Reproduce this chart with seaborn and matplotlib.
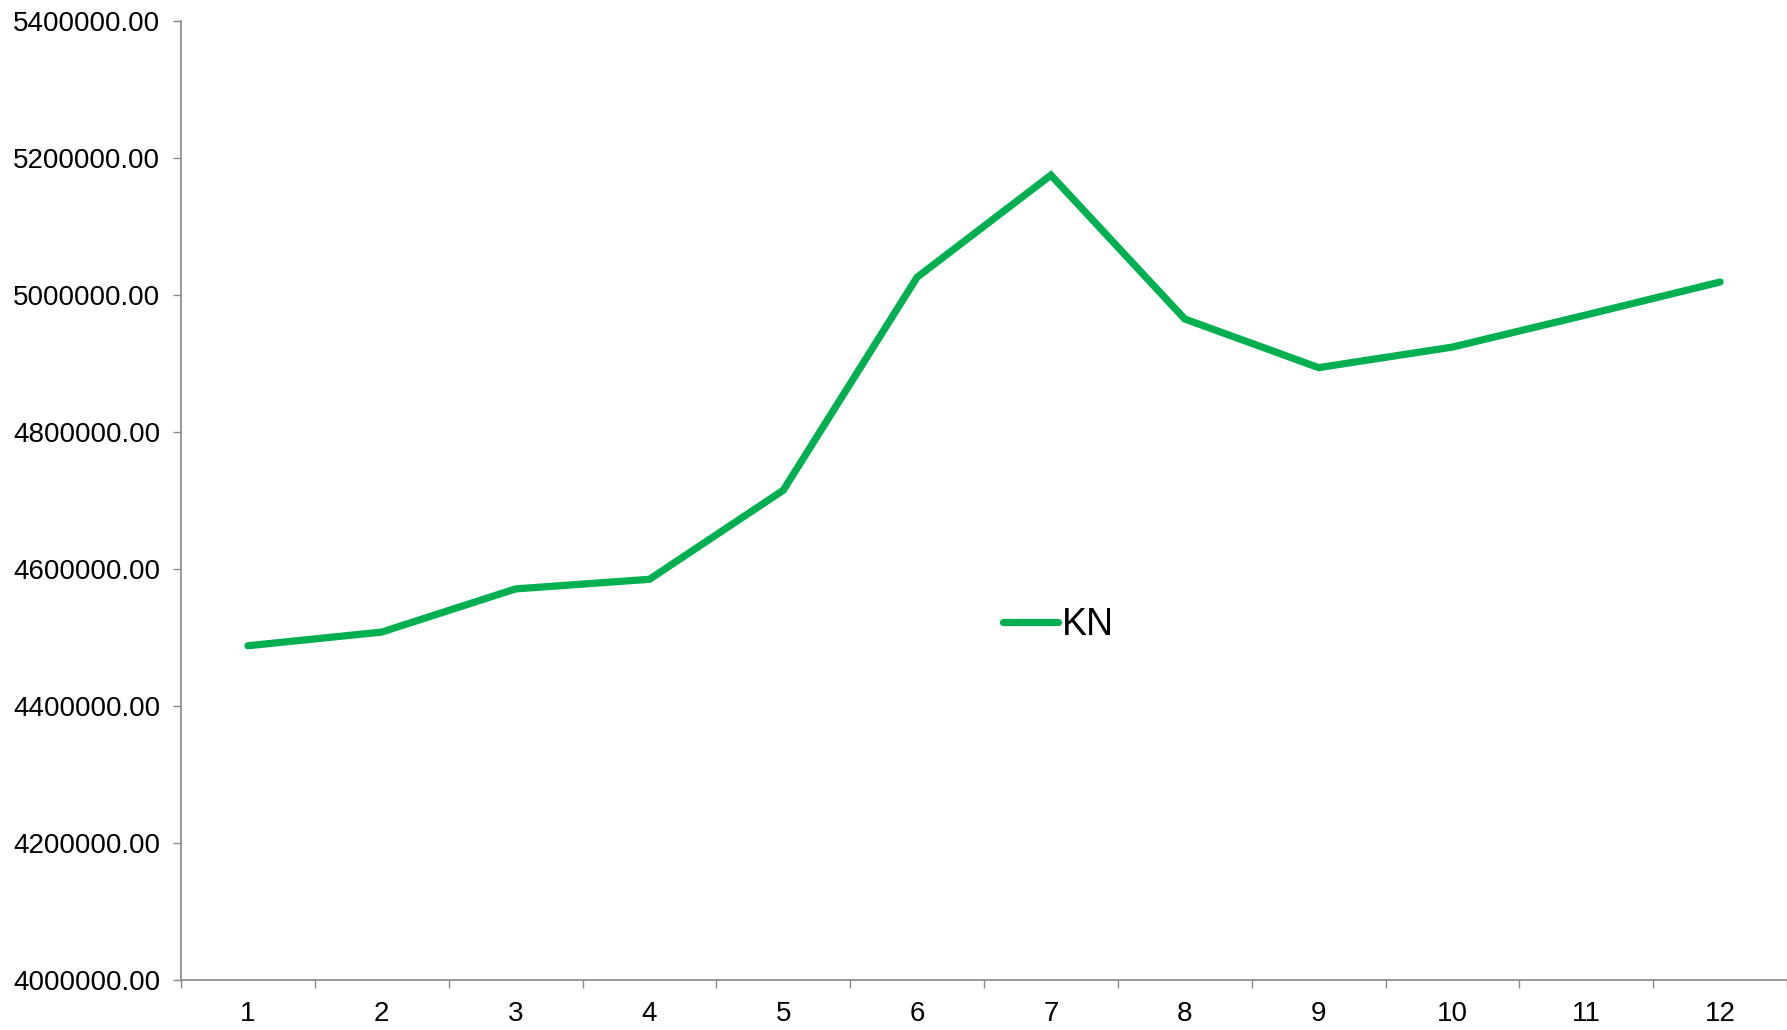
import matplotlib
matplotlib.use("Agg")
import matplotlib.pyplot as plt
from matplotlib.ticker import FixedLocator, FuncFormatter
import seaborn as sns
import pandas as pd

# Monthly values of the KN series
months = [1, 2, 3, 4, 5, 6, 7, 8, 9, 10, 11, 12]
kn_values = [4488000, 4508000, 4571000, 4585000, 4715000, 5026000,
             5175000, 4965000, 4894000, 4924000, 4971000, 5019000]
series_name = "KN"
y_ticks = [4000000, 4200000, 4400000, 4600000, 4800000, 5000000, 5200000, 5400000]

sns.set_theme(style="white")
plt.rcParams["font.family"] = ["Liberation Sans", "DejaVu Sans"]

df = pd.DataFrame({"month": months, "value": kn_values, "series": series_name})

fig = plt.figure(figsize=(17.87, 10.30), dpi=100)
ax = fig.add_axes([0.1013, 0.0485, 0.8987, 0.9311])

sns.lineplot(data=df, x="month", y="value", hue="series",
             palette=["#00B050"], linewidth=5.2, ax=ax,
             solid_capstyle="round", solid_joinstyle="miter", legend=True)

ax.set_xlim(0.5, 12.5)
ax.set_ylim(y_ticks[0], y_ticks[-1])
ax.set_yticks(y_ticks)
ax.yaxis.set_major_formatter(FuncFormatter(lambda v, p: f"{v:.2f}"))

# labels centred on each month, tick marks on the boundaries between months
ax.set_xticks(months)
ax.set_xticklabels([str(m) for m in months])
ax.xaxis.set_minor_locator(FixedLocator([m - 0.5 for m in months] + [12.5]))
ax.tick_params(axis="x", which="major", length=0, pad=15, labelsize=20, colors="black")
ax.tick_params(axis="x", which="minor", length=6, width=1, color="#888888", direction="out", bottom=True)
ax.tick_params(axis="y", which="major", length=6, width=1, color="#888888", direction="out",
               pad=9, labelsize=20, labelcolor="black", left=True)

ax.set_xlabel("")
ax.set_ylabel("")
for side in ("top", "right"):
    ax.spines[side].set_visible(False)
for side in ("left", "bottom"):
    ax.spines[side].set_color("#888888")
    ax.spines[side].set_linewidth(1.2)
ax.grid(False)

leg = ax.legend(loc="center left", bbox_to_anchor=(0.5615, 0.393),
                bbox_transform=fig.transFigure, frameon=False, fontsize=27,
                handlelength=1.45, handletextpad=0.1, borderpad=0, borderaxespad=0)
for line in leg.get_lines():
    line.set_linewidth(5.2)
    line.set_solid_capstyle("round")
for text in leg.get_texts():
    text.set_color("black")

fig.savefig("out.png", dpi=100)
